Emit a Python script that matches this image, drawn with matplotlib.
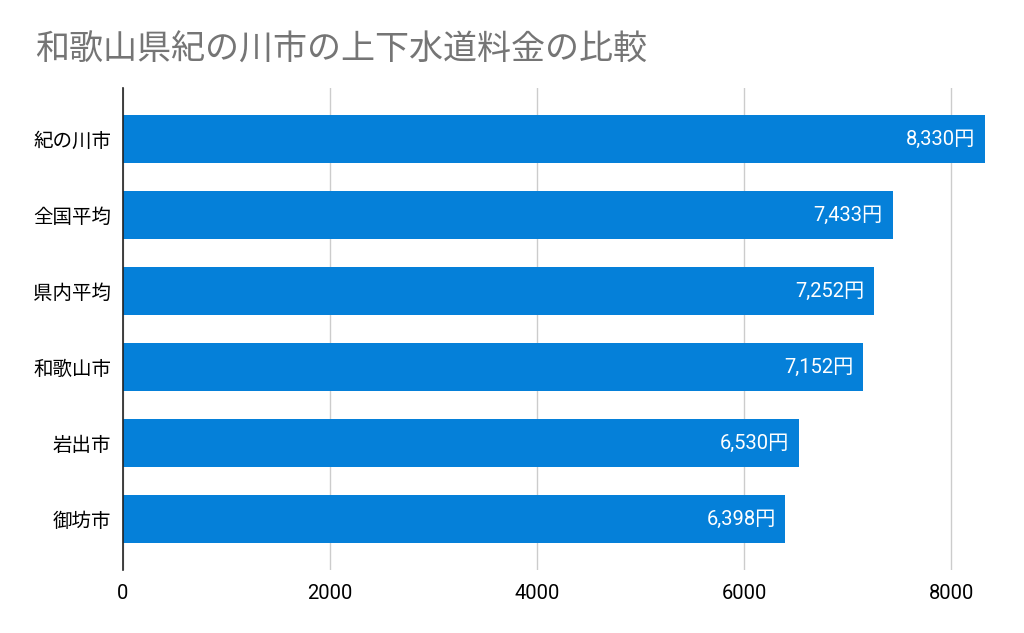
import matplotlib
matplotlib.use("Agg")
import matplotlib.pyplot as plt

categories = ["紀の川市", "全国平均", "県内平均", "和歌山市", "岩出市", "御坊市"]
values = [8330, 7433, 7252, 7152, 6530, 6398]
xticks = [0, 2000, 4000, 6000, 8000]
title = "和歌山県紀の川市の上下水道料金の比較"

plt.rcParams['font.family'] = ['Roboto', 'Noto Sans CJK JP', 'DejaVu Sans']

fig = plt.figure(figsize=(10.24, 6.33), dpi=100)
ax = fig.add_axes([0.1201, 0.0995, 0.8604, 0.7615])

bar_color = "#0580d9"
ax.barh(range(len(categories)), values, height=0.63, color=bar_color, zorder=3)
for i, v in enumerate(values):
    ax.text(v - 95, i, f"{v:,}円", color="white", ha="right", va="center",
            fontsize=14.5, family=['Roboto', 'Noto Sans CJK JP'], zorder=4)

ax.set_ylim(len(categories) - 0.33, -0.67)
ax.set_xlim(0, 8510)
ax.set_yticks(range(len(categories)))
ax.set_yticklabels(categories, fontsize=14, family=['Noto Sans CJK JP'])
ax.set_xticks(xticks)
ax.set_xticklabels([str(t) for t in xticks], fontsize=14.5)
ax.tick_params(axis='both', length=0)
ax.tick_params(axis='x', pad=10)
ax.tick_params(axis='y', pad=8.5)
ax.grid(axis='x', color="#cccccc", linewidth=1, zorder=0)
for s in ['top', 'right', 'bottom']:
    ax.spines[s].set_visible(False)
ax.spines['left'].set_color("#222222")
ax.spines['left'].set_linewidth(1.2)
ax.spines['left'].set_zorder(5)

fig.text(0.034, 0.921, title, fontsize=24.5, color="#757575", ha="left", va="center",
         family=['Noto Sans CJK JP'])

fig.savefig("out.png", dpi=100)
